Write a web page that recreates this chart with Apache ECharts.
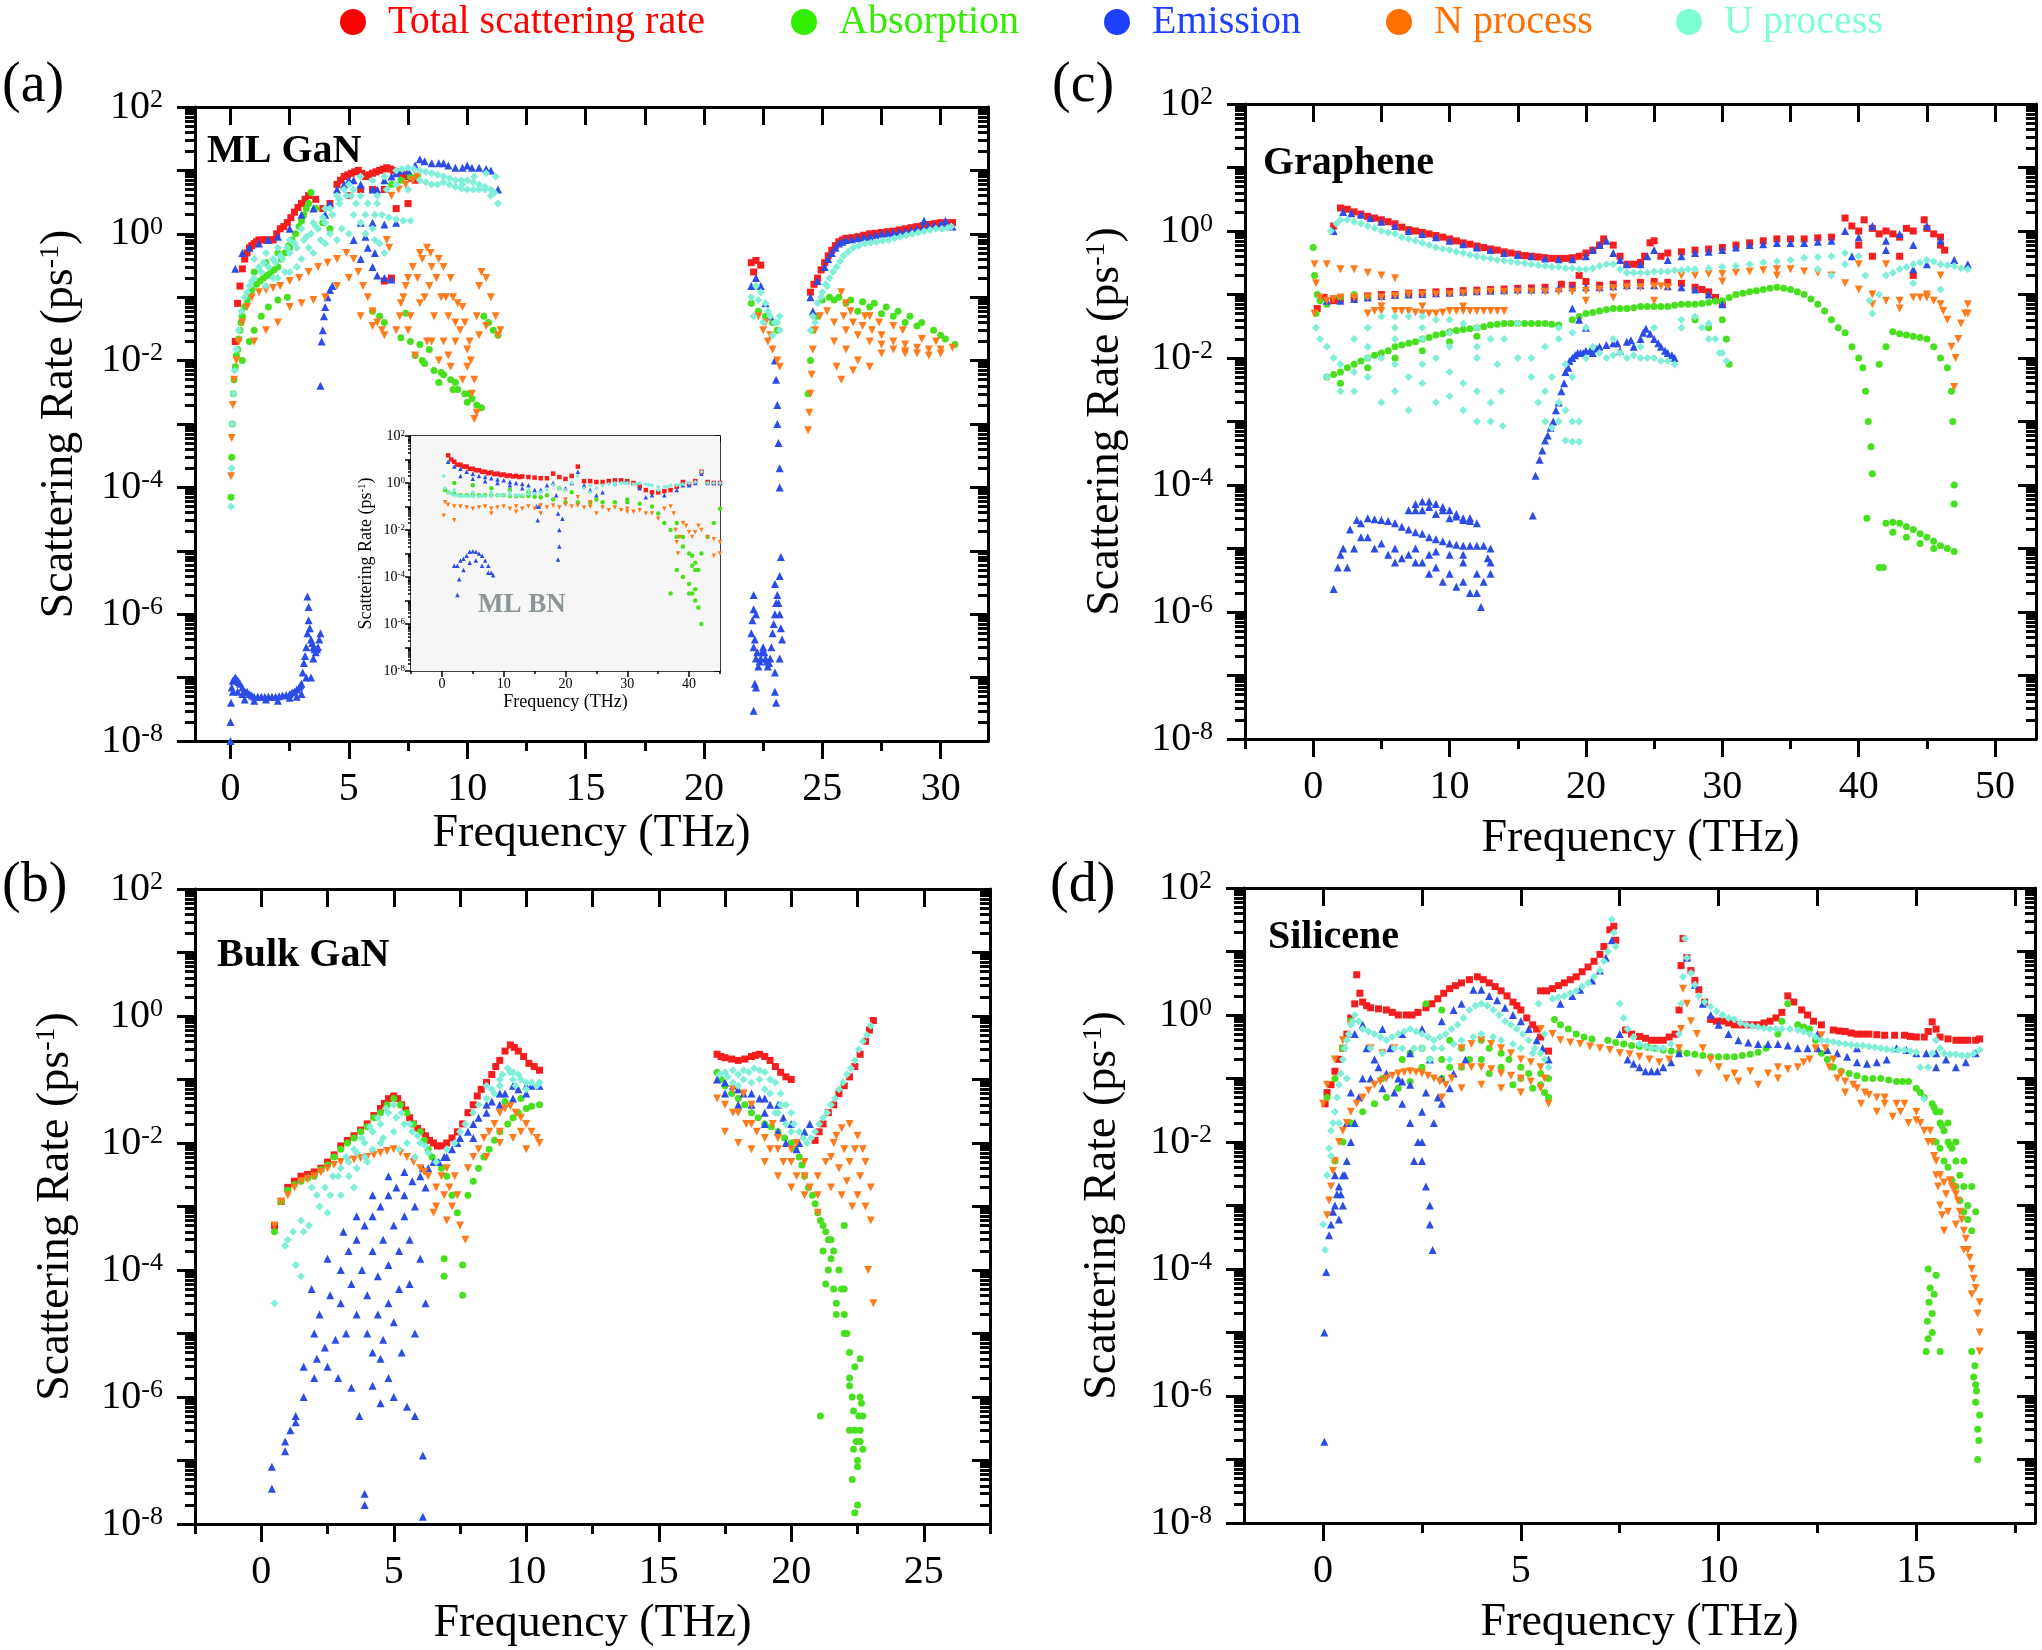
<!DOCTYPE html>
<html>
<head>
<meta charset="utf-8">
<title>Phonon scattering rates</title>
<script src="https://cdn.jsdelivr.net/npm/echarts@6.0.0/dist/echarts.min.js"></script>
<style>
  html, body { margin: 0; padding: 0; background: #fff; }
  #chart { width: 2042px; height: 1650px; }
</style>
</head>
<body>
<div id="chart"></div>
<script>
var seriesNames = ['Total scattering rate', 'Absorption', 'Emission', 'N process', 'U process'];

// x-axis tick labels / minor ticks per panel
var aXLabels = [0, 5, 10, 15, 20, 25, 30];
var aXMinor = [2.5, 7.5, 12.5, 17.5, 22.5, 27.5];
var bXLabels = [0, 5, 10, 15, 20, 25];
var bXMinor = [-2.5, 2.5, 7.5, 12.5, 17.5, 22.5, 27.5];
var cXLabels = [0, 10, 20, 30, 40, 50];
var cXMinor = [-5, 5, 15, 25, 35, 45];
var dXLabels = [0, 5, 10, 15];
var dXMinor = [2.5, 7.5, 12.5, 17.5];
var iXLabels = [0, 10, 20, 30, 40];
var iXMinor = [-5, 5, 15, 25, 35, 45];
// y decades (exponents) that carry a label
var yDecades = [-8, -6, -4, -2, 0, 2];

// ---------- (a) ML GaN ----------
var aTotal = [[0.2,2e-2],[0.4,1.5e-1],[0.6,4e-1],[0.8,6e-1],[1.0,7e-1],[1.2,8e-1],[1.5,8e-1],[1.8,8e-1],[2.1,1.2],[2.4,1.5],[2.7,2.2],[3.0,3],[3.3,4],[3.6,3.5],[3.9,2.5],[4.2,3],[4.5,6],[4.8,8],[5.1,9],[5.4,10],[5.7,8],[6.0,9],[6.3,10],[6.6,11],[6.9,10],[7.2,9],[7.5,8],[7.8,7],[5.0,4],[5.5,5],[6.0,5],[6.5,5],[6.5,1.8e-1],[6.8,2e-1],[7.0,2.5],[7.5,3],[22.0,3.5e-1],[22.2,3.8e-1],[22.4,3.2e-1],[22.1,2.5e-1],[24.5,1.2e-1],[24.8,2e-1],[25.1,3.5e-1],[25.4,5.5e-1],[25.7,7.5e-1],[26.0,8.5e-1],[26.5,9e-1],[27.0,1.0],[27.5,1.05],[28.0,1.1],[28.5,1.2],[29.0,1.3],[29.5,1.4],[30.0,1.5],[30.5,1.5],[24.65,1.6e-1],[24.95,2.7e-1],[25.25,4.5e-1],[25.55,6.5e-1],[25.85,8e-1],[26.25,8.7e-1],[26.75,9.5e-1],[27.25,1.02],[27.75,1.08],[28.25,1.15],[28.75,1.25],[29.25,1.35],[29.75,1.45],[30.25,1.5],[0.3,8e-2],[0.5,2.8e-1],[0.7,5e-1],[0.9,6.5e-1],[1.1,7.5e-1],[1.35,8e-1],[1.65,8e-1],[1.95,1],[2.25,1.3],[2.55,1.8],[2.85,2.6],[3.15,3.5],[4.65,7],[4.95,8.5],[5.25,9.5],[5.55,9],[5.85,8.5],[6.15,9.5],[6.45,10.5],[6.75,10.5],[7.05,9.5],[7.35,8.5],[7.65,7.5]];
var aAbs = [[0.02,7e-5],[0.05,3e-4],[0.08,1e-3],[0.12,3e-3],[0.2,8e-3],[0.3,1.5e-2],[0.4,3e-2],[0.5,5e-2],[0.7,9e-2],[0.9,1.3e-1],[1.1,1.6e-1],[1.4,2e-1],[1.7,2.4e-1],[2.0,3e-1],[2.3,5e-1],[2.6,8e-1],[2.9,1.3],[3.1,2],[3.3,3],[3.4,4.5],[3.6,2.5],[3.9,1.5],[4.2,1.2],[1.0,2.5e-1],[1.5,3.5e-1],[2.0,5e-1],[2.5,6e-1],[0.5,1e-2],[0.8,2e-2],[1.0,3e-2],[1.3,5e-2],[1.6,7e-2],[2.0,9e-2],[2.4,1e-1],[6.8,6],[7.2,7],[7.6,8],[7.9,8],[6.0,6e-2],[6.3,5e-2],[6.5,4e-2],[7.4,5.6e-2],[7.2,2.3e-2],[7.6,2e-2],[8.0,1.8e-2],[8.4,1.5e-2],[8.2,9e-3],[8.6,7e-3],[9.0,6e-3],[9.3,5e-3],[9.6,3.5e-3],[9.9,3e-3],[10.2,2.5e-3],[10.4,2e-3],[10.6,1.8e-3],[8.8,4.5e-3],[9.4,3.5e-3],[10.0,2.2e-3],[10.7,5e-2],[10.9,4e-2],[11.1,3e-2],[11.3,2.5e-2],[22.0,8e-2],[22.3,6e-2],[22.6,5e-2],[22.9,4e-2],[23.1,3e-2],[24.4,3e-3],[24.5,1e-2],[24.6,3e-2],[24.8,5e-2],[25.0,9e-2],[25.3,1e-1],[25.7,1e-1],[26.2,9e-2],[26.7,8.5e-2],[27.2,8e-2],[27.7,7e-2],[28.2,6e-2],[28.7,5e-2],[29.2,4e-2],[29.7,3e-2],[30.2,2.2e-2],[30.6,1.8e-2],[26.5,6e-2],[27.5,5.5e-2],[28.5,4e-2],[0.15,5e-3],[0.25,1.2e-2],[0.35,2.2e-2],[0.45,4e-2],[0.6,7e-2],[0.8,1.1e-1],[1.25,1.8e-1],[1.55,2.2e-1],[1.85,2.7e-1],[2.15,4e-1],[2.45,6.5e-1],[2.75,1],[3.0,1.6],[3.2,2.5],[7.8,1.2e-2],[8.1,1e-2],[8.9,6.5e-3],[9.5,4.5e-3],[10.1,3e-3],[25.5,9e-2],[26.0,8e-2],[27.0,7e-2],[28.0,5e-2],[29.0,3.5e-2],[30.0,2.5e-2]];
var aEm = [[0.2,2.8e-1],[0.5,5e-1],[0.8,6e-1],[1.2,7e-1],[1.6,8e-1],[2.0,9e-1],[2.5,1.2],[3.0,2],[3.5,2.5],[4.0,2],[4.5,5],[5.0,7],[5.5,6],[6.0,5],[6.5,7],[7.0,9],[7.5,10],[8.0,15],[8.5,13],[9.0,13],[9.5,11],[10.0,12],[10.5,11],[11.0,10],[11.3,5],[6.0,1.5],[6.5,1.4],[7.0,1.5],[5.5,1.5],[5.8,6e-1],[6.0,3e-1],[6.2,2.2e-1],[6.5,2e-1],[6.8,1.9e-1],[5.2,8e-1],[5.5,4e-1],[5.7,9e-1],[6.1,5e-1],[7.2,10],[7.8,12],[8.2,14],[8.8,13],[9.2,12],[9.8,11],[10.2,11],[10.8,10.5],[4.2,3],[4.8,6],[5.2,7],[6.2,5],[6.8,8],[3.8,4e-3],[3.85,2e-2],[3.9,3e-2],[3.95,5e-2],[4.0,7e-2],[4.1,1e-1],[4.2,1.3e-1],[4.3,1.5e-1],[0.0,1e-8],[0.0,2e-8],[0.02,4e-8],[0.05,7e-8],[0.1,9e-8],[0.2,1e-7],[0.3,9e-8],[0.4,8e-8],[0.6,6e-8],[0.8,5.5e-8],[1.0,5e-8],[1.3,5e-8],[1.6,5e-8],[1.9,5e-8],[2.2,5.2e-8],[2.5,5.5e-8],[2.7,6e-8],[2.9,7e-8],[3.0,8e-8],[3.1,1.7e-7],[3.2,3e-7],[3.25,5e-7],[3.3,8e-7],[3.25,1.9e-6],[3.3,1.3e-6],[3.4,4e-7],[3.5,3e-7],[3.6,2.5e-7],[3.7,3e-7],[3.8,5e-7],[3.5,2e-7],[0.3,6e-8],[0.6,4.5e-8],[1.5,4.5e-8],[2.5,4.8e-8],[3.0,5.5e-8],[3.4,1e-7],[0.15,9e-8],[0.25,9.5e-8],[0.35,8.5e-8],[0.5,7e-8],[0.7,6e-8],[0.9,5.2e-8],[1.15,5e-8],[1.45,5e-8],[1.75,5e-8],[2.05,5.1e-8],[2.35,5.3e-8],[2.6,5.8e-8],[2.8,6.5e-8],[2.95,7.5e-8],[3.05,1.2e-7],[3.15,2.2e-7],[3.35,6e-7],[3.45,3.5e-7],[3.55,2.8e-7],[3.65,2.8e-7],[3.75,4e-7],[0.1,6e-8],[0.5,5.5e-8],[1.0,4.3e-8],[2.0,4.3e-8],[2.8,5e-8],[3.2,1e-7],[22.0,1.5e-1],[22.2,2e-1],[22.4,1.5e-1],[22.6,8e-2],[22.8,5e-2],[23.0,1e-2],[23.05,5e-3],[23.1,2e-3],[23.1,1e-3],[23.15,5e-4],[23.2,2e-4],[23.2,1e-4],[23.25,8e-6],[22.0,5e-7],[22.1,3e-7],[22.2,2e-7],[22.3,1.5e-7],[22.4,2e-7],[22.5,3e-7],[22.6,2e-7],[22.7,1.5e-7],[22.8,2e-7],[22.9,5e-7],[23.0,1e-6],[23.1,2e-6],[23.2,1e-6],[23.3,4e-7],[23.2,2e-7],[22.2,1e-6],[22.1,2e-6],[22.15,8e-8],[23.0,1.2e-7],[22.2,7e-8],[22.1,3e-8],[23.0,6e-8],[23.05,4e-8],[22.05,8e-7],[22.15,4e-7],[22.25,2.5e-7],[22.35,1.8e-7],[22.45,2.5e-7],[22.55,2.5e-7],[22.65,1.8e-7],[22.75,1.7e-7],[22.85,3e-7],[22.95,7e-7],[23.05,1.5e-6],[23.15,1.5e-6],[23.25,6e-7],[23.0,3e-6],[23.2,4e-6],[22.1,1.2e-6],[24.5,1e-1],[24.8,1.8e-1],[25.1,3e-1],[25.4,5e-1],[25.7,7e-1],[26.0,8e-1],[26.5,8.5e-1],[27.0,9e-1],[27.5,1.0],[28.0,1.05],[28.5,1.1],[29.0,1.2],[29.5,1.3],[30.0,1.4],[30.5,1.3],[29.3,1.6],[30.2,1.6],[24.6,6e-2],[25.25,4e-1],[25.55,6e-1],[25.85,7.5e-1],[26.25,8.2e-1],[26.75,8.8e-1],[27.25,9.5e-1],[27.75,1.02],[28.25,1.08],[28.75,1.15],[29.25,1.25],[29.75,1.35],[30.25,1.35]];
var aN = [[0.02,1.5e-4],[0.05,6e-4],[0.1,2e-3],[0.15,5e-3],[0.25,1e-2],[0.35,2e-2],[0.5,4e-2],[0.7,7e-2],[0.9,1e-1],[1.2,1.2e-1],[1.5,1.3e-1],[1.8,1.4e-1],[2.1,1.5e-1],[2.5,1.8e-1],[2.9,2e-1],[3.3,2.5e-1],[3.7,3e-1],[4.1,3.5e-1],[4.5,4e-1],[4.9,5e-1],[5.2,4e-1],[5.4,2.5e-1],[5.6,1.5e-1],[5.8,1e-1],[6.0,6e-2],[6.2,4e-2],[6.4,3e-2],[6.5,2.5e-2],[5.0,2e-1],[4.5,1.5e-1],[4.0,1e-1],[3.5,9e-2],[3.0,8e-2],[2.5,7e-2],[2.0,4e-2],[1.5,3e-2],[1.0,2e-2],[5.5,5e-2],[6.0,3.5e-2],[6.8,4],[7.1,5],[7.4,6],[7.7,7],[7.9,8],[6.6,8e-1],[6.7,6e-1],[7.0,3e-2],[7.2,8e-2],[7.5,2e-1],[8.0,5e-1],[8.3,6e-1],[8.8,4e-1],[9.3,2e-1],[9.8,7e-2],[10.1,2e-2],[10.3,5e-3],[10.4,1.5e-3],[7.3,1e-1],[7.6,5e-2],[7.9,2e-1],[8.2,1e-1],[8.5,3e-1],[8.6,5e-2],[8.9,1e-1],[9.2,5e-2],[9.5,2e-2],[9.7,3e-2],[10.0,8e-3],[7.8,1.2e-2],[8.3,2e-2],[8.8,1e-2],[9.3,8e-3],[9.8,5e-3],[10.2,3e-3],[7.15,5e-2],[7.4,1.5e-1],[7.7,3e-1],[8.1,4e-1],[8.45,5e-1],[8.7,2e-1],[9.0,3e-1],[9.1,1e-1],[9.4,1e-1],[9.6,8e-2],[9.9,4e-2],[10.15,1e-2],[7.5,3e-2],[8.0,8e-2],[8.4,1.5e-1],[9.0,2e-2],[9.5,4e-2],[10.0,1.5e-2],[8.5,2e-2],[9.2,1.2e-2],[10.4,5e-2],[10.5,1.5e-1],[10.6,2.5e-1],[10.8,2e-1],[11.0,1e-1],[11.2,5e-2],[11.3,2.5e-2],[10.5,2.5e-2],[10.8,3.5e-2],[11.4,3e-2],[10.3,1.2e-3],[22.3,5e-2],[22.5,3e-2],[22.7,2e-2],[22.9,1.5e-2],[23.1,1e-2],[23.2,8e-3],[22.6,4e-2],[22.8,2.5e-2],[24.4,8e-4],[24.45,1.5e-3],[24.5,3e-3],[24.55,6e-3],[24.6,1.5e-2],[24.7,3e-2],[24.9,5e-2],[25.2,6e-2],[25.5,4e-2],[25.9,5e-2],[26.3,4e-2],[26.7,3.5e-2],[27.1,3e-2],[27.5,2.5e-2],[28.0,2e-2],[28.5,1.8e-2],[29.0,1.6e-2],[29.5,1.5e-2],[30.0,1.5e-2],[30.5,1.6e-2],[25.5,2e-2],[26.0,1.5e-2],[26.5,1e-2],[27.0,8e-3],[26.3,7e-3],[25.8,5e-3],[25.6,8e-3],[27.5,1.3e-2],[28.5,1.3e-2],[29.5,1.2e-2],[26.0,8e-2],[25.8,1.2e-1],[27.0,5e-2],[28.0,3.5e-2],[26.0,3e-2],[26.5,2.5e-2],[27.0,2e-2],[27.5,1.8e-2],[28.0,1.5e-2],[28.5,1.4e-2],[29.0,1.3e-2],[30.0,1.3e-2],[26.2,6e-2],[26.8,5e-2],[27.4,4e-2],[28.4,3e-2],[29.2,2.2e-2],[29.8,2e-2]];
var aU = [[0.02,5e-5],[0.05,2e-4],[0.08,1e-3],[0.12,3e-3],[0.18,7e-3],[0.25,1.5e-2],[0.35,3e-2],[0.45,6e-2],[0.6,1e-1],[0.8,1.5e-1],[1.0,2e-1],[1.3,2.5e-1],[1.6,3e-1],[1.9,3.5e-1],[2.2,4e-1],[2.5,5e-1],[2.8,6e-1],[3.1,8e-1],[3.4,1],[3.7,1.2],[4.0,1.5],[4.3,2],[4.6,3],[4.9,4],[5.2,5],[5.5,4],[5.8,3],[6.1,2],[6.4,2],[6.7,1.8],[7.0,1.7],[7.3,1.6],[7.6,1.6],[1.0,4e-1],[1.5,5e-1],[2.0,6e-1],[2.5,8e-1],[3.0,1.2],[3.5,1.5],[4.0,2.5],[4.5,4],[5.0,6],[5.5,8],[6.0,7],[3.0,4e-1],[3.5,5e-1],[4.0,7e-1],[4.5,8e-1],[5.0,1],[5.5,1.5],[6.0,1.2],[6.3,7e-1],[6.5,5e-1],[2.0,2e-1],[2.5,2.5e-1],[1.5,1.5e-1],[0.7,1.2e-1],[0.9,1.8e-1],[1.2,3e-1],[1.4,3.5e-1],[1.8,4e-1],[2.1,4.5e-1],[2.4,6e-1],[2.7,7e-1],[3.2,9e-1],[3.6,1.3],[3.9,1.8],[4.2,2.5],[4.6,3.5],[4.8,5],[5.1,4],[3.3,6e-1],[3.8,8e-1],[4.2,1],[4.7,1.2],[5.2,2],[5.7,1],[6.1,8e-1],[2.8,3e-1],[2.3,2.5e-1],[1.8,2e-1],[5.3,3],[5.7,2],[6.2,3],[6.2,4],[6.6,5],[7.0,6],[7.5,5],[6.5,8],[7.0,10],[7.5,11],[8.0,10],[8.5,9],[9.0,8],[9.5,7],[10.0,7],[10.5,6],[11.0,4],[11.3,3],[8.0,7],[8.5,6],[9.0,6.5],[9.5,5.5],[10.0,5],[10.5,5],[11.0,5],[11.2,8],[10.8,9],[10.3,8],[9.8,6],[7.25,10.5],[7.75,10.5],[8.25,9.5],[8.75,8.5],[9.25,7.5],[9.75,7],[10.25,6.5],[10.75,5.5],[11.15,4.5],[8.25,6.5],[8.75,6],[9.25,6],[9.75,5.2],[10.25,5],[10.75,5],[22.0,1e-1],[22.2,1.5e-1],[22.4,1.2e-1],[22.6,8e-2],[22.8,5e-2],[23.0,4e-2],[23.2,3e-2],[22.1,5e-2],[22.5,4e-2],[22.9,2.5e-2],[23.2,5e-2],[22.3,9e-2],[22.7,6e-2],[23.1,4e-2],[24.5,3e-2],[24.6,5e-2],[24.8,8e-2],[25.0,1.2e-1],[25.3,2e-1],[25.6,3e-1],[25.9,4.5e-1],[26.3,6e-1],[26.8,7e-1],[27.3,7.5e-1],[27.8,8e-1],[28.3,9e-1],[28.8,1.0],[29.3,1.1],[29.8,1.2],[30.3,1.25],[25.2,1.5e-1],[24.7,4e-2],[24.95,1e-1],[25.15,1.6e-1],[25.45,2.5e-1],[25.75,3.7e-1],[26.1,5.2e-1],[26.55,6.5e-1],[27.05,7.2e-1],[27.55,7.8e-1],[28.05,8.5e-1],[28.55,9.5e-1],[29.05,1.05],[29.55,1.15],[30.05,1.2],[30.45,1.3]];

// ---------- (b) Bulk GaN ----------
var bTotal = [[0.5,5e-4],[1.0,2e-3],[1.5,3e-3],[2.0,3.5e-3],[2.5,5e-3],[3.0,9e-3],[3.5,1.3e-2],[4.0,2e-2],[4.5,3.5e-2],[4.8,5e-2],[5.0,5.5e-2],[5.3,4e-2],[5.6,2.5e-2],[5.9,1.7e-2],[6.2,1.3e-2],[6.5,1e-2],[6.8,9e-3],[7.2,1.2e-2],[7.6,2e-2],[8.0,4e-2],[8.3,7e-2],[8.7,1.2e-1],[9.0,2e-1],[9.4,3.5e-1],[9.7,2.8e-1],[10.1,1.8e-1],[10.5,1.4e-1],[17.2,2.5e-1],[17.5,2.2e-1],[18.0,2e-1],[18.5,2.3e-1],[18.8,2.5e-1],[19.2,2e-1],[19.6,1.3e-1],[20.0,1e-1],[20.9,1.1e-2],[21.2,2e-2],[21.6,4e-2],[22.0,8e-2],[22.4,1.6e-1],[22.8,4e-1],[23.1,8.5e-1],[0.75,1.2e-3],[1.25,2.5e-3],[1.75,3.2e-3],[2.25,4e-3],[2.75,6.5e-3],[3.25,1.1e-2],[3.75,1.6e-2],[4.25,2.7e-2],[4.65,4.2e-2],[5.15,5e-2],[5.45,3.3e-2],[5.75,2e-2],[6.05,1.5e-2],[6.35,1.1e-2],[6.65,9e-3],[7.0,1e-2],[7.4,1.5e-2],[7.8,3e-2],[8.15,5.5e-2],[8.5,9e-2],[8.85,1.6e-1],[9.2,2.8e-1],[9.55,3.2e-1],[9.9,2.3e-1],[10.3,1.6e-1],[17.35,2.3e-1],[17.75,2.1e-1],[18.25,2.1e-1],[18.65,2.4e-1],[19.0,2.3e-1],[19.4,1.6e-1],[19.8,1.1e-1],[21.05,1.5e-2],[21.4,3e-2],[21.8,6e-2],[22.2,1.1e-1],[22.6,2.5e-1],[22.95,6e-1]];
var bAbs = [[0.5,4e-4],[1.0,1.8e-3],[1.5,2.5e-3],[2.0,3e-3],[2.5,4.5e-3],[3.0,8e-3],[3.5,1.2e-2],[4.0,1.8e-2],[4.5,3e-2],[5.0,5e-2],[5.5,3e-2],[6.0,1.5e-2],[6.3,8e-3],[6.6,5e-3],[7.0,3e-3],[7.2,1.5e-3],[7.4,8e-4],[6.9,1.5e-4],[6.9,8e-5],[7.6,1.2e-4],[7.6,4e-5],[7.8,1.5e-3],[8.2,4e-3],[8.6,8e-3],[9.0,1.5e-2],[9.5,2.5e-2],[10.0,3.5e-2],[10.5,4e-2],[9.2,4.5e-2],[9.8,5e-2],[17.2,1.3e-1],[17.5,8e-2],[18.0,5e-2],[18.5,3e-2],[19.0,2e-2],[19.5,1.5e-2],[20.0,1e-2],[20.3,6e-3],[20.5,3e-3],[20.8,1.5e-3],[21.0,8e-4],[21.2,5e-4],[21.4,3e-4],[21.6,2e-4],[21.8,1e-4],[21.5,1.5e-4],[21.9,5e-5],[22.0,2e-5],[22.2,5e-6],[22.3,1e-6],[22.4,3e-7],[22.5,1e-7],[22.3,5e-8],[22.5,2e-8],[22.6,2e-7],[22.7,5e-7],[22.2,1.5e-6],[22.6,1e-6],[22.0,5e-5],[21.6,5e-5],[22.1,1e-5],[22.4,3e-6],[22.5,8e-8],[22.4,1.5e-8],[22.6,4e-6],[21.1,5e-7],[22.0,5e-4],[21.3,6e-5],[21.7,2e-5],[22.7,1.5e-7],[0.75,1.2e-3],[1.25,2.2e-3],[1.75,2.8e-3],[2.25,3.8e-3],[2.75,6e-3],[3.25,1e-2],[3.75,1.5e-2],[4.25,2.5e-2],[4.75,4e-2],[5.25,4e-2],[5.75,2e-2],[6.15,1.1e-2],[6.45,6e-3],[6.8,4e-3],[8.0,2.5e-3],[8.4,6e-3],[8.8,1.1e-2],[9.3,2e-2],[9.7,3e-2],[10.2,3.8e-2],[17.35,1e-1],[17.75,6e-2],[18.25,4e-2],[18.75,2.5e-2],[19.25,1.8e-2],[19.75,1.2e-2],[20.15,8e-3],[20.4,4.5e-3],[20.65,2e-3],[20.9,1.1e-3],[21.1,6e-4],[21.3,4e-4],[21.5,3e-4],[21.2,2e-4],[21.4,1e-4],[21.7,3e-5],[22.0,1e-5],[22.2,2e-6],[22.35,6e-7],[22.45,2e-7],[22.55,5e-7],[22.65,8e-7],[22.2,3e-7],[22.35,1.5e-7],[22.6,3e-7]];
var bEm = [[1.9,5e-5],[2.5,1.5e-4],[3.1,4e-4],[3.6,7e-4],[4.2,1.5e-3],[4.8,3e-3],[5.4,3.5e-3],[6.1,4e-3],[6.5,5e-3],[6.9,6e-3],[2.2,2e-5],[2.6,4e-5],[3.0,1e-4],[3.3,2e-4],[3.6,3e-4],[3.9,5e-4],[4.2,7e-4],[4.5,1e-3],[4.8,1.5e-3],[5.1,2e-3],[5.4,1.5e-3],[5.7,2.5e-3],[6.0,3e-3],[3.0,3e-5],[3.4,6e-5],[3.8,1e-4],[4.2,2e-4],[4.6,3e-4],[5.0,5e-4],[5.4,7e-4],[5.8,1e-3],[6.2,2e-3],[3.6,2e-5],[4.0,4e-5],[4.4,8e-5],[4.8,1.2e-4],[5.2,2e-4],[5.6,3e-4],[4.0,1e-5],[4.4,2e-5],[4.8,3e-5],[5.2,5e-5],[3.2,1e-5],[2.8,8e-6],[2.4,6e-6],[2.0,1e-5],[1.6,3e-6],[4.2,5e-6],[4.6,8e-6],[5.0,1.5e-5],[5.6,6e-5],[6.0,1.5e-4],[0.4,8e-8],[0.4,3.6e-8],[0.9,2e-7],[0.9,1.4e-7],[1.3,5e-7],[1.3,4e-7],[1.6,1e-6],[2.1,4e-6],[2.5,3e-6],[2.9,2e-6],[3.4,1.4e-6],[3.7,5e-7],[3.9,3e-8],[3.9,2e-8],[4.2,1.5e-6],[4.5,8e-7],[4.8,2e-6],[5.0,1e-6],[5.5,7e-7],[5.8,5e-7],[6.1,1.2e-7],[6.1,1.3e-8],[4.5,4e-6],[5.3,5e-6],[5.8,1e-5],[6.2,3e-5],[1.1,3e-7],[2.0,2e-6],[7.2,8e-3],[7.5,1.2e-2],[8.0,2e-2],[8.5,4e-2],[9.0,6e-2],[9.5,8e-2],[10.0,8e-2],[10.5,8e-2],[8.5,3e-2],[9.5,5e-2],[6.3,4e-3],[6.7,5e-3],[7.0,6e-3],[7.4,1e-2],[7.8,1.5e-2],[8.2,2.5e-2],[8.7,4.5e-2],[9.2,6e-2],[9.7,7e-2],[10.2,8e-2],[8.0,1.2e-2],[9.0,4e-2],[10.0,6e-2],[17.2,1e-1],[17.5,9e-2],[18.0,7e-2],[18.5,6e-2],[19.0,5e-2],[19.5,4e-2],[20.0,2e-2],[17.5,6e-2],[18.5,4e-2],[19.0,3e-2],[19.5,1.5e-2],[20.2,8e-3],[17.8,8e-2],[18.2,6e-2],[18.8,5e-2],[19.2,4e-2],[19.7,2.5e-2],[18.0,4e-2],[19.0,2e-2],[19.8,1e-2],[20.3,1e-2],[20.5,1.5e-2],[20.7,2e-2]];
var bN = [[0.5,5e-4],[1.0,1.5e-3],[1.5,2.5e-3],[2.0,3e-3],[2.5,4e-3],[3.0,5e-3],[3.5,5.5e-3],[4.0,6e-3],[4.5,7e-3],[5.0,8e-3],[5.5,6e-3],[6.0,4e-3],[6.3,3e-3],[6.6,2e-3],[6.9,1.5e-3],[7.2,1e-3],[7.5,5e-4],[6.5,8e-4],[7.0,6e-4],[7.7,3e-4],[6.8,3e-3],[7.0,4e-3],[7.3,3e-3],[7.8,4e-3],[8.2,8e-3],[8.6,1.5e-2],[9.0,3e-2],[9.4,3.8e-2],[9.8,2.5e-2],[10.2,1.5e-2],[10.5,1e-2],[8.5,6e-3],[9.0,1e-2],[9.5,1.2e-2],[10.0,8e-3],[8.0,6e-3],[8.4,1.2e-2],[8.8,2e-2],[9.2,3.5e-2],[9.6,3e-2],[10.0,2e-2],[10.4,1.2e-2],[9.0,1.5e-2],[9.8,1.5e-2],[6.6,1e-3],[7.1,2e-3],[7.4,1.5e-3],[0.75,1.2e-3],[1.25,2e-3],[1.75,2.7e-3],[2.25,3.5e-3],[2.75,4.5e-3],[3.25,5.3e-3],[3.75,5.8e-3],[4.25,6.5e-3],[4.75,7.5e-3],[5.25,7e-3],[5.75,5e-3],[6.15,3.5e-3],[17.2,5e-2],[17.5,4e-2],[18.0,3e-2],[18.5,2e-2],[19.0,1.2e-2],[19.5,8e-3],[20.0,5e-3],[20.5,3e-3],[21.0,1.5e-3],[18.0,1e-2],[18.5,8e-3],[19.0,5e-3],[19.5,3e-3],[20.0,2e-3],[20.5,1.5e-3],[21.0,8e-4],[17.5,1.5e-2],[18.2,6e-2],[19.3,2e-2],[20.2,1e-2],[17.8,3e-2],[18.3,2e-2],[18.7,1.5e-2],[19.2,8e-3],[19.7,5e-3],[20.2,3e-3],[20.7,2e-3],[17.8,7e-2],[18.5,4e-2],[19.5,1.2e-2],[20.0,8e-3],[20.5,5e-3],[21.0,3e-3],[21.3,5e-3],[21.5,6e-3],[21.6,1e-2],[21.7,1.3e-2],[21.9,1.7e-2],[22.2,2e-2],[22.5,1.3e-2],[22.8,5e-3],[23.0,2e-3],[23.0,6e-4],[22.6,3e-3],[22.2,5e-3],[21.8,4e-3],[21.5,2e-3],[22.3,1e-3],[22.0,8e-3],[22.4,8e-3],[22.7,8e-3],[22.1,2.5e-3],[22.5,1.5e-3],[22.8,1e-3],[21.9,1.5e-3],[22.9,1e-4],[23.1,3e-5]];
var bU = [[0.5,3e-5],[0.9,2.4e-4],[1.0,3e-4],[1.2,4e-4],[1.5,6e-4],[1.8,5e-4],[1.9,2e-3],[2.1,1.5e-3],[2.4,2e-3],[2.7,3e-3],[3.0,4e-3],[3.3,5e-3],[3.6,7e-3],[3.9,1e-2],[4.2,1.5e-2],[4.5,2e-2],[4.8,3e-2],[5.1,2.5e-2],[5.4,2e-2],[5.7,1.5e-2],[6.0,1e-2],[6.3,7e-3],[6.6,5e-3],[4.0,5e-3],[4.5,1e-2],[5.0,1.5e-2],[5.5,1e-2],[3.5,2e-3],[2.5,8e-4],[1.5,8e-5],[1.3,1.2e-4],[2.9,3e-3],[3.2,6e-3],[3.5,8e-3],[3.8,1.2e-2],[4.1,1.8e-2],[4.4,2.5e-2],[4.7,3.5e-2],[5.0,4e-2],[5.3,3e-2],[5.6,2e-2],[5.9,1.3e-2],[6.2,9e-3],[3.0,1.5e-3],[3.3,3e-3],[3.6,4e-3],[3.9,6e-3],[4.2,8e-3],[4.6,1.2e-2],[5.2,8e-3],[5.8,6e-3],[2.2,1e-3],[2.6,1.5e-3],[1.6,4e-4],[7.0,8e-3],[7.5,1.5e-2],[8.0,3e-2],[8.5,5e-2],[9.0,1e-1],[9.3,1.5e-1],[9.5,1.3e-1],[9.8,1e-1],[10.2,9e-2],[10.5,9e-2],[8.8,6e-2],[9.6,8e-2],[7.3,1e-2],[7.7,2e-2],[8.2,4e-2],[8.7,7e-2],[9.1,1.2e-1],[9.4,1.3e-1],[9.7,1.2e-1],[10.0,9e-2],[10.4,8e-2],[8.5,8e-2],[9.0,8e-2],[9.5,1e-1],[10.0,7e-2],[17.3,1.2e-1],[17.6,1.1e-1],[18.0,1.2e-1],[18.4,1.3e-1],[18.8,1.4e-1],[19.2,1e-1],[19.6,6e-2],[20.0,3e-2],[20.3,1.5e-2],[20.6,1e-2],[20.9,1.5e-2],[21.2,2.5e-2],[21.5,4e-2],[21.8,7e-2],[22.1,1.2e-1],[22.4,2e-1],[22.7,4e-1],[23.0,7e-1],[18.0,8e-2],[18.5,9e-2],[19.0,7e-2],[19.5,3e-2],[19.8,2e-2],[17.5,1.3e-1],[17.8,1.4e-1],[18.2,1.4e-1],[18.6,1.5e-1],[19.0,1.3e-1],[19.4,9e-2],[19.8,4e-2],[20.1,2e-2],[20.45,1.2e-2],[20.75,1.2e-2],[21.05,2e-2],[21.35,3e-2],[21.65,5e-2],[21.95,9e-2],[22.25,1.5e-1],[22.55,3e-1],[22.85,5e-1],[17.8,9e-2],[18.2,1e-1],[18.8,1e-1],[19.2,6e-2],[19.6,4e-2],[19.4,3e-2],[20.0,1.5e-2]];

// ---------- (c) Graphene ----------
var cTotal = [[1.5,1.2],[2.0,2.3],[3,2.0],[4,1.7],[5,1.5],[6,1.3],[7,1.05],[8,9.5e-1],[9,8.5e-1],[10,7.5e-1],[11,6.5e-1],[12,5.8e-1],[13,5.2e-1],[14,4.7e-1],[15,4.3e-1],[16,4e-1],[17,3.8e-1],[18,3.7e-1],[19,3.8e-1],[20,4.5e-1],[21,6e-1],[21.3,7.5e-1],[22,6e-1],[22.5,4e-1],[23,3e-1],[24,3.2e-1],[24.7,6.5e-1],[25,7e-1],[25.5,4e-1],[26,4.5e-1],[28,5e-1],[30,5.5e-1],[32,6.5e-1],[34,7.5e-1],[36,7.5e-1],[38,8e-1],[39,1.6],[40,1.0],[40.4,1.5],[41.5,9e-1],[42,1.0],[43,8e-1],[44,1.0],[44.8,1.5],[45,1.1],[46,8e-1],[46.3,5e-1],[40,6e-1],[41,4e-1],[43,4e-1],[44,2e-1],[2.5,2.2],[3.5,1.85],[4.5,1.6],[5.5,1.4],[6.5,1.15],[7.5,1.0],[8.5,9e-1],[9.5,8e-1],[10.5,7e-1],[11.5,6.2e-1],[12.5,5.5e-1],[13.5,5e-1],[14.5,4.5e-1],[15.5,4.1e-1],[16.5,3.9e-1],[17.5,3.7e-1],[18.5,3.7e-1],[19.5,4e-1],[20.5,5e-1],[23.5,3e-1],[24.3,4e-1],[27,4.7e-1],[29,5.2e-1],[31,6e-1],[33,7e-1],[35,7.5e-1],[37,7.8e-1],[39.5,1.2],[41,1.1],[42.5,9e-1],[43.5,1.1],[45.5,9e-1],[46,6e-1],[0.8,9e-2],[1.5,8e-2],[3,9e-2],[5,1e-1],[7,1.05e-1],[9,1.1e-1],[11,1.15e-1],[13,1.2e-1],[15,1.25e-1],[17,1.3e-1],[18.2,1.45e-1],[19,1.4e-1],[20,1.6e-1],[21,1.4e-1],[23,1.5e-1],[25,1.6e-1],[27,1.5e-1],[28,1.3e-1],[29,1.1e-1],[29.5,9e-2],[30,7e-2],[0.3,6e-2],[19.5,2e-1],[2,8.5e-2],[4,9.5e-2],[6,1e-1],[8,1.07e-1],[10,1.12e-1],[12,1.17e-1],[14,1.22e-1],[16,1.27e-1],[22,1.45e-1],[24,1.55e-1],[26,1.55e-1],[28.5,1.2e-1]];
var cAbs = [[0.0,5.5e-1],[0.1,2e-1],[0.3,1e-1],[0.5,8e-2],[0.2,5e-2],[1,7e-2],[2,9e-2],[3,1e-1],[4,9e-2],[1,5e-3],[2,6e-3],[3,8e-3],[4,1e-2],[5,1.2e-2],[6,1.5e-2],[7,1.7e-2],[8,2e-2],[9,2.3e-2],[10,2.6e-2],[11,2.8e-2],[12,3e-2],[13,3.3e-2],[14,3.5e-2],[15,3.5e-2],[16,3.5e-2],[17,3.5e-2],[18,3.3e-2],[2,4e-3],[4,7e-3],[6,1e-2],[8,1.3e-2],[10,1.8e-2],[12,2.2e-2],[1.5,5.5e-3],[2.5,7e-3],[3.5,9e-3],[4.5,1.1e-2],[5.5,1.3e-2],[6.5,1.6e-2],[7.5,1.8e-2],[8.5,2.1e-2],[9.5,2.4e-2],[10.5,2.7e-2],[11.5,2.9e-2],[12.5,3.1e-2],[13.5,3.4e-2],[14.5,3.5e-2],[15.5,3.5e-2],[16.5,3.5e-2],[17.5,3.4e-2],[19,4e-2],[19.5,4.5e-2],[20,5e-2],[20.5,5.2e-2],[21,5.5e-2],[21.5,5.8e-2],[22,6e-2],[22.5,6e-2],[23,6e-2],[23.5,6.2e-2],[24,6.5e-2],[24.5,6.5e-2],[25,6.5e-2],[25.5,6.5e-2],[26,6.5e-2],[26.5,6.8e-2],[27,7e-2],[27.5,7e-2],[28,7e-2],[28.5,7.2e-2],[29,7.5e-2],[29.5,7.8e-2],[30,8e-2],[30.3,2e-2],[30.5,8e-3],[30,4e-2],[28,4e-2],[29,3e-2],[30.5,9e-2],[31,1e-1],[31.5,1.05e-1],[32,1.1e-1],[32.5,1.15e-1],[33,1.2e-1],[33.5,1.25e-1],[34,1.3e-1],[34.5,1.25e-1],[35,1.2e-1],[35.5,1.1e-1],[36,1e-1],[36.5,8.5e-2],[37,7e-2],[37.5,5.5e-2],[38,4e-2],[38.5,3e-2],[39,2.5e-2],[39.5,1.5e-2],[40,1e-2],[40.3,7e-3],[40.5,3e-3],[40.7,1e-3],[40.9,4e-4],[41,1.5e-4],[40.6,3e-5],[41.5,5e-6],[41.8,5e-6],[41.5,8e-3],[42,1.5e-2],[42.5,2.6e-2],[43,2.4e-2],[43.5,2.3e-2],[44,2.2e-2],[44.5,2.1e-2],[45,2e-2],[45.5,1.5e-2],[46,1e-2],[46.5,7e-3],[46.8,3e-3],[46.9,1e-3],[47,1e-4],[47,5e-5],[42,2.5e-5],[42.5,2.6e-5],[43,2.5e-5],[43.5,2.2e-5],[44,2e-5],[44.5,1.7e-5],[45,1.5e-5],[45.5,1.3e-5],[46,1.1e-5],[46.5,1e-5],[47,9e-6],[42.5,1.8e-5],[43.5,1.5e-5],[44.5,1.2e-5],[45.5,1e-5]];
var cEm = [[1.5,1.0],[2.2,2.0],[3.5,1.8],[5,1.4],[7,1.0],[9,8e-1],[11,6.2e-1],[13,5e-1],[15,4.2e-1],[17,3.7e-1],[19,3.6e-1],[20.5,5e-1],[21.5,7e-1],[22.5,3.5e-1],[24,3e-1],[25,5e-1],[26,3.5e-1],[28,4.5e-1],[30,5e-1],[32,6e-1],[34,6.5e-1],[36,6.5e-1],[38,7e-1],[39,1.0],[40,8e-1],[41,1.2],[42,7e-1],[43,9e-1],[44,6e-1],[45,1.2],[46,7e-1],[47,3.5e-1],[48,3e-1],[44,2.5e-1],[45,3e-1],[42,5e-1],[39.5,4e-1],[2.8,1.9],[4.2,1.6],[6,1.2],[8,9e-1],[10,7e-1],[12,5.5e-1],[14,4.5e-1],[16,4e-1],[18,3.6e-1],[20,4e-1],[21,6e-1],[22,4.5e-1],[23,3e-1],[24.5,4e-1],[27,4e-1],[29,4.7e-1],[31,5.5e-1],[33,6.2e-1],[35,6.5e-1],[37,6.8e-1],[1,8e-2],[3,8.5e-2],[5,9.5e-2],[7,1e-1],[9,1.05e-1],[11,1.1e-1],[13,1.15e-1],[15,1.2e-1],[17,1.2e-1],[19,1.3e-1],[21,1.3e-1],[23,1.4e-1],[25,1.4e-1],[27,1.3e-1],[29,1e-1],[30,7e-2],[19,6e-2],[19.5,4e-2],[20,3e-2],[2,8e-2],[4,9e-2],[6,9.8e-2],[8,1.02e-1],[10,1.07e-1],[12,1.12e-1],[14,1.17e-1],[16,1.2e-1],[18,1.25e-1],[20,1.3e-1],[22,1.35e-1],[24,1.4e-1],[26,1.35e-1],[28,1.2e-1],[16.1,3.3e-5],[16.3,1.4e-4],[16.6,2.5e-4],[16.8,3.5e-4],[17,5e-4],[17.2,6e-4],[17.4,8e-4],[17.6,1e-3],[17.8,1.5e-3],[18,2e-3],[18.2,3e-3],[18.4,4e-3],[18.5,6e-3],[18.7,7e-3],[18.8,9e-3],[19,1e-2],[19.2,1.1e-2],[19.4,1.2e-2],[19.6,1.2e-2],[19.8,1.2e-2],[20,1.3e-2],[20.3,1.3e-2],[20.5,1.2e-2],[20.8,1.4e-2],[21,1.5e-2],[21.5,1.6e-2],[22,1.7e-2],[22.3,1.7e-2],[22.5,1.3e-2],[23,1.8e-2],[23.3,1.9e-2],[23.5,1.5e-2],[24,2e-2],[24.2,2.5e-2],[24.4,2.9e-2],[24.7,2.4e-2],[25,2e-2],[25.3,1.7e-2],[25.5,1.5e-2],[25.8,1.3e-2],[26,1.2e-2],[26.3,1.1e-2],[26.5,1e-2],[1.5,2.3e-6],[1.8,5e-6],[2.2,1e-5],[2.7,2e-5],[3.2,2.8e-5],[3.5,2.5e-5],[4,3e-5],[4.5,2.9e-5],[5,2.8e-5],[5.5,2.7e-5],[6,2.5e-5],[6.5,2.2e-5],[7,2e-5],[7.5,1.8e-5],[8,1.7e-5],[8.5,1.5e-5],[9,1.4e-5],[9.5,1.3e-5],[10,1.2e-5],[10.5,1.15e-5],[11,1.1e-5],[11.5,1.1e-5],[12,1.1e-5],[12.5,1.1e-5],[13,1e-5],[2,8e-6],[3,1e-5],[3.5,1.5e-5],[4,1.5e-5],[4.5,1e-5],[5,1.2e-5],[5.5,8e-6],[6,1e-5],[6.5,7e-6],[7,8e-6],[7.5,6e-6],[8,6e-6],[8.5,4e-6],[9,5e-6],[9.5,3e-6],[10,4e-6],[10.5,2.5e-6],[11,3e-6],[11.5,2e-6],[12,2e-6],[12.3,1.2e-6],[12,4e-6],[12.5,3e-6],[13,4e-6],[12.8,7e-6],[13,6e-6],[2.5,5e-6],[6,6e-6],[7.5,1e-5],[8.5,8e-6],[9,9e-6],[10,8e-6],[11,6e-6],[11,8e-6],[7,4e-5],[7.5,5e-5],[8,5.5e-5],[8.5,5.5e-5],[9,5e-5],[9.5,4.5e-5],[10,4e-5],[10.5,3.5e-5],[11,3e-5],[11.5,2.7e-5],[12,2.5e-5],[7.5,4e-5],[8,4e-5],[8.5,4.5e-5],[9,3.5e-5],[9.5,4e-5],[10,3e-5],[10.5,3.2e-5],[11,2.8e-5],[11.5,3e-5]];
var cN = [[0.1,3e-1],[0.2,1.5e-1],[0.1,5e-2],[0.5,9e-2],[1,8e-2],[1.5,8.5e-2],[2,9e-2],[3,9e-2],[4,9e-2],[5,9e-2],[6,9.5e-2],[7,1e-1],[8,1e-1],[9,1e-1],[10,1e-1],[11,1.05e-1],[12,1.07e-1],[13,1.1e-1],[14,1.1e-1],[15,1.1e-1],[16,1.1e-1],[17,1.1e-1],[18,1.1e-1],[19,1.1e-1],[20,1.15e-1],[21,1.2e-1],[22,1.25e-1],[23,1.3e-1],[24,1.3e-1],[25,1.35e-1],[25.5,1.35e-1],[26,1.3e-1],[4,5e-2],[4.5,5.5e-2],[5,5.5e-2],[6,5.5e-2],[6.5,5.5e-2],[7,5.5e-2],[7.5,5.2e-2],[8,5e-2],[8.5,5e-2],[9,5e-2],[9.5,5.2e-2],[10,5.5e-2],[10.5,5.5e-2],[11,5.5e-2],[11.5,5.5e-2],[12,5.5e-2],[12.5,5.5e-2],[13,5.5e-2],[13.5,5.5e-2],[14,5.5e-2],[5,6.5e-2],[8,6.5e-2],[11,6.5e-2],[1,3e-1],[2,2.5e-1],[3,2.5e-1],[4,2.2e-1],[5,2e-1],[6,1.8e-1],[27,2e-1],[28,2e-1],[29,2.1e-1],[30,2.1e-1],[31,2.2e-1],[32,2.3e-1],[33,2.4e-1],[34,2.5e-1],[35,2.5e-1],[36,2.3e-1],[37,2.2e-1],[38,2e-1],[39,1.5e-1],[40,1.2e-1],[41,1e-1],[42,8e-2],[43,6e-2],[44,9e-2],[44.5,9e-2],[45,9e-2],[45.5,8e-2],[46,7e-2],[46.2,5.5e-2],[46.5,4e-2],[46.8,1.5e-2],[47,3.5e-3],[47.1,1e-2],[47.3,2e-2],[47.5,3.5e-2],[47.8,5e-2],[48,7e-2],[48,5e-2],[41,7e-2],[43,8e-2],[45,1e-1],[20,8e-2],[25,8e-2],[22,9e-2],[30,1.6e-1],[34,2e-1],[40,3e-1],[42,3e-1],[46,2e-1]];
var cU = [[1.3,1.0],[1.7,1.3],[2,1.5],[2.5,1.5],[3,1.4],[3.5,1.3],[4,1.2],[4.5,1.1],[5,1.0],[5.5,9.5e-1],[6,9e-1],[6.5,8e-1],[7,7.5e-1],[7.5,7e-1],[8,6.5e-1],[8.5,6e-1],[9,5.5e-1],[9.5,5.2e-1],[10,5e-1],[10.5,4.7e-1],[11,4.5e-1],[11.5,4.2e-1],[12,4e-1],[12.5,3.8e-1],[13,3.7e-1],[13.5,3.5e-1],[14,3.4e-1],[14.5,3.3e-1],[15,3.2e-1],[15.5,3.1e-1],[16,3e-1],[16.5,2.9e-1],[17,2.8e-1],[17.5,2.7e-1],[18,2.7e-1],[18.5,2.6e-1],[19,2.6e-1],[19.5,2.5e-1],[20,2.5e-1],[20.5,2.6e-1],[21,2.8e-1],[21.5,3e-1],[22,3e-1],[22.5,2.5e-1],[23,2.2e-1],[23.5,2.2e-1],[24,2.2e-1],[24.5,2.2e-1],[25,2.3e-1],[25.5,2.3e-1],[26,2.3e-1],[26.5,2.4e-1],[27,2.4e-1],[27.5,2.5e-1],[28,2.5e-1],[29,2.6e-1],[30,2.7e-1],[31,2.8e-1],[32,3e-1],[33,3.2e-1],[34,3.3e-1],[35,3.5e-1],[36,3.8e-1],[37,3.9e-1],[38,4e-1],[39,4.5e-1],[40,4e-1],[40.5,2e-1],[40.8,8e-2],[41,5e-2],[41.5,1e-1],[42,2e-1],[42.5,2.2e-1],[43,2.5e-1],[43.5,2.7e-1],[44,3e-1],[44.5,3.2e-1],[45,3.5e-1],[45.5,3.3e-1],[46,3e-1],[46.5,2.9e-1],[47,2.8e-1],[47.5,2.6e-1],[48,2.5e-1],[38,2e-1],[37,2.5e-1],[39,3e-1],[44,1.5e-1],[46,1.2e-1],[0.2,3e-2],[0.5,2e-2],[1,1.5e-2],[1.5,1e-2],[2,8e-3],[3,2e-2],[4,3e-2],[5,4.5e-2],[6,4.5e-2],[7,4.5e-2],[8,4.5e-2],[9,4e-2],[10,4e-2],[11,3.5e-2],[12,3e-2],[13,2e-2],[13.5,8e-3],[13.8,3e-3],[13.9,8.5e-4],[3,6e-3],[4,5e-3],[5,1e-2],[6,8e-3],[7,5e-3],[8,4e-3],[9,1e-2],[10,6e-3],[11,4e-3],[12,3e-3],[13,2e-3],[5,2e-3],[7,1.5e-3],[9,2e-3],[11,1.5e-3],[1,5e-3],[2,3e-3],[4,1.5e-2],[6,2e-2],[8,2e-2],[10,1.5e-2],[12,1e-2],[3,3e-3],[6,3e-3],[10,2.5e-3],[12,1e-3],[13,1e-3],[8,8e-3],[4,1e-2],[6,3e-2],[8,3e-2],[10,2.5e-2],[12,1.5e-2],[14,2e-2],[15,1e-2],[16,5e-3],[17,3e-3],[18,1e-3],[18.5,5e-4],[19,4.8e-4],[19.5,4.8e-4],[17,1e-3],[18,2e-3],[19,1e-3],[16.5,2e-3],[17.5,8e-4],[18.5,1.5e-3],[19,5e-3],[19.5,1e-3],[17.5,5e-3],[18.5,8e-3],[16,1e-2],[17,1.5e-2],[18,2e-2],[19,2.5e-2],[20,3e-2],[20,1e-2],[20.5,1.5e-2],[21,1.2e-2],[21.5,1e-2],[22,1.1e-2],[22.5,1.2e-2],[23,1e-2],[23.5,1.1e-2],[24,1e-2],[24.5,1e-2],[25,1e-2],[25.5,9e-3],[26,9e-3],[26.5,8e-3],[22,2e-2],[24,1.5e-2],[25,3e-2],[27,4e-2],[28,4.5e-2],[28.5,3e-2],[29,3.5e-2],[29,2e-2],[29.5,2e-2],[29.8,1.2e-2],[30,1.2e-2],[30.3,9e-3],[27,3e-2],[15,3.5e-2],[18,3e-2]];

// ---------- (d) Silicene ----------
var dTotal = [[0.05,4e-2],[0.1,6e-2],[0.2,8e-2],[0.3,1.3e-1],[0.4,2e-1],[0.5,3e-1],[0.6,5e-1],[0.7,9e-1],[0.8,1.5],[0.85,4.3],[0.93,2.2],[1.0,1.6],[1.1,1.4],[1.2,1.3],[1.4,1.25],[1.6,1.2],[1.75,1.1],[1.9,1.0],[2.1,1.0],[2.25,1.0],[2.4,1.1],[2.6,1.3],[2.75,1.5],[2.9,1.8],[3.05,2.2],[3.2,2.6],[3.35,2.9],[3.5,3.2],[3.7,3.6],[3.9,4],[4.05,3.6],[4.2,3.2],[4.35,2.8],[4.5,2.4],[4.65,2],[4.8,1.6],[4.9,1.4],[5.0,1.2],[5.15,9e-1],[5.3,7e-1],[5.4,6e-1],[5.5,4.5e-1],[5.7,2.7e-1],[5.5,2.4],[5.65,2.4],[5.8,2.6],[5.95,2.9],[6.1,3.2],[6.25,3.6],[6.4,4],[6.55,4.8],[6.7,5.7],[6.85,7],[7.0,9],[7.1,12],[7.25,22],[7.35,25],[7.4,15],[7.65,5.8e-1],[7.8,5e-1],[8.0,4.6e-1],[8.15,4.3e-1],[8.3,4e-1],[8.45,4e-1],[8.6,4e-1],[8.75,4.5e-1],[8.9,5e-1],[9.0,1.2],[9.05,6],[9.1,16],[9.2,8],[9.3,5],[9.4,3.5],[9.5,2.5],[9.65,1.6],[9.8,8.5e-1],[9.95,8e-1],[10.1,8e-1],[10.25,7.5e-1],[10.4,7e-1],[10.55,7e-1],[10.7,7e-1],[10.85,7e-1],[11.0,7e-1],[11.15,7.5e-1],[11.3,8e-1],[11.45,9e-1],[11.6,1.1],[11.75,2],[11.9,1.6],[12.1,1.2],[12.25,1.0],[12.4,8e-1],[12.6,7e-1],[12.9,5.8e-1],[13.05,5.6e-1],[13.2,5.5e-1],[13.35,5.2e-1],[13.5,5e-1],[13.65,5e-1],[13.8,5e-1],[14.0,4.9e-1],[14.2,4.8e-1],[14.45,4.8e-1],[14.7,4.8e-1],[14.85,4.6e-1],[15.0,4.5e-1],[15.2,4.5e-1],[15.3,5.5e-1],[15.4,7.8e-1],[15.5,6e-1],[15.6,4.5e-1],[15.8,4.2e-1],[16.0,4e-1],[16.15,4e-1],[16.3,4e-1],[16.5,4e-1],[16.6,4.2e-1]];
var dAbs = [[0.1,5e-2],[0.3,1e-1],[0.5,3e-1],[0.7,8e-1],[0.3,5e-3],[0.5,1e-2],[0.7,2e-2],[1.0,3e-2],[1.3,4e-2],[1.6,5e-2],[1.9,7e-2],[2.2,9e-2],[1.5,1e-1],[2.0,2e-1],[2.5,3e-1],[2.5,1.5e-1],[3.0,2e-1],[3.0,1e-1],[3.5,1.5e-1],[3.5,3e-1],[4.0,2e-1],[4.0,4e-1],[4.5,2.5e-1],[4.5,1.5e-1],[5.0,1.5e-1],[5.0,1e-1],[5.5,8e-2],[5.7,5e-2],[5.5,1.2e-1],[2.6,1.5],[3.0,1.2],[2.2,2.5e-1],[2.7,2e-1],[3.2,1.5e-1],[3.7,2e-1],[4.2,3e-1],[4.7,2e-1],[5.2,1.2e-1],[5.6,6e-2],[3.2,4e-1],[4.2,1.2e-1],[4.8,8e-2],[5.3,7e-2],[5.7,1e-1],[5.85,8.5e-1],[6.0,7e-1],[6.2,6e-1],[6.4,5e-1],[6.6,4.5e-1],[6.8,4.2e-1],[7.2,4e-1],[7.4,3.7e-1],[7.6,3.5e-1],[7.8,3.3e-1],[8.0,3.2e-1],[8.2,3.1e-1],[8.4,3e-1],[8.6,2.8e-1],[8.8,2.7e-1],[9.0,2.6e-1],[9.2,2.5e-1],[9.4,2.4e-1],[9.6,2.3e-1],[9.8,2.2e-1],[10.0,2.2e-1],[10.2,2.2e-1],[10.4,2.2e-1],[10.6,2.3e-1],[10.8,2.4e-1],[11.0,2.6e-1],[11.2,3e-1],[11.5,5e-1],[11.6,8e-1],[11.75,1.5],[12.0,7e-1],[12.15,6.5e-1],[12.3,6e-1],[12.45,4e-1],[12.6,2.5e-1],[12.75,2e-1],[12.9,1.5e-1],[13.1,1.3e-1],[13.3,1.2e-1],[13.5,1.1e-1],[13.7,1e-1],[13.9,1e-1],[14.1,1e-1],[14.3,9.5e-2],[14.5,9e-2],[14.65,9e-2],[14.8,9e-2],[15.0,7e-2],[15.1,6e-2],[15.2,5e-2],[15.4,4e-2],[15.45,3.5e-2],[15.5,3e-2],[15.6,2e-2],[15.65,1.8e-2],[15.7,1.5e-2],[15.8,1e-2],[15.85,9e-3],[15.9,8e-3],[16.0,5e-3],[16.1,3e-3],[16.2,2e-3],[16.3,1e-3],[15.5,1e-2],[15.6,8e-3],[15.7,5e-3],[15.8,4e-3],[15.9,2.5e-3],[16.0,2e-3],[16.1,1.2e-3],[16.2,8e-4],[16.3,6e-4],[16.4,4e-4],[15.6,3e-2],[15.8,2e-2],[16.0,1e-2],[16.2,5e-3],[16.4,2e-3],[16.5,8e-4],[15.3,1e-4],[15.35,5e-5],[15.4,2e-5],[15.3,8e-6],[15.25,5e-6],[15.5,8e-5],[15.4,1e-5],[15.6,5e-6],[15.32,3e-5],[15.28,1.5e-5],[15.45,4e-5],[16.4,5e-6],[16.45,2e-6],[16.48,3e-6],[16.5,8e-7],[16.52,1.2e-6],[16.55,3e-7],[16.55,1e-7],[16.58,2e-7],[16.6,5e-7],[16.5,1.5e-6]];
var dEm = [[0.03,1e-5],[0.03,1.9e-7],[0.08,9e-5],[0.15,3.4e-4],[0.2,5e-4],[0.25,8e-4],[0.3,1e-3],[0.35,1.5e-3],[0.4,2e-3],[0.45,1.5e-3],[0.5,3e-3],[0.55,3e-3],[0.6,5e-3],[0.5,1e-3],[0.4,6e-4],[0.7,1e-2],[0.8,2e-2],[0.9,5e-2],[1.0,1e-1],[0.6,2e-2],[0.7,6e-2],[0.3,3e-3],[1.1,3e-1],[1.2,1e-1],[1.3,2e-1],[1.5,7e-2],[1.6,1.2e-1],[1.7,3e-1],[1.8,6e-2],[1.9,1e-1],[2.0,4e-2],[2.2,2e-2],[2.2,8e-2],[2.2,2.5e-1],[2.4,1e-2],[2.5,5e-3],[2.5,3e-2],[2.6,2e-3],[2.7,1e-3],[2.7,5e-4],[2.77,2e-4],[2.3,5e-3],[2.5,1e-2],[2.7,2e-1],[2.8,2e-2],[2.9,5e-2],[3.0,4e-2],[3.2,7e-2],[3.3,1.2e-1],[3.6,2e-1],[1.4,1.5e-1],[2.0,9e-2],[2.6,6e-2],[3.0,1e-1],[0.8,5e-1],[1.0,7e-1],[1.5,6e-1],[2.0,5e-1],[2.5,6e-1],[3.0,8e-1],[3.3,1.2],[3.5,1.5],[3.8,2.5],[4.0,2.5],[4.2,2],[4.4,1.7],[4.6,1.3],[4.8,1],[5.0,8e-1],[5.2,6e-1],[5.4,4e-1],[5.55,3e-1],[5.7,2e-1],[6.0,1.5],[6.3,2],[6.5,2.5],[6.8,3.5],[7.0,5],[7.15,8],[7.3,15],[7.5,5e-1],[7.7,2e-1],[7.85,1.7e-1],[8.0,1.5e-1],[8.15,1.3e-1],[8.3,1.3e-1],[8.45,1.3e-1],[8.6,1.5e-1],[8.8,1.8e-1],[9.0,2.5e-1],[9.2,8],[9.4,3],[9.6,1.5],[9.8,1],[10.0,7e-1],[10.25,5e-1],[10.5,4e-1],[10.75,3.7e-1],[11.0,3.5e-1],[11.25,3.5e-1],[11.5,3.5e-1],[11.75,3.3e-1],[12.0,3e-1],[12.25,3e-1],[12.5,3e-1],[12.75,2.8e-1],[13.0,2.5e-1],[13.25,2.2e-1],[13.5,1.8e-1],[13.75,1.7e-1],[14.0,1.8e-1],[14.25,2e-1],[14.5,3e-1],[14.75,2.8e-1],[15.0,2.5e-1],[15.25,2.5e-1],[15.5,2.5e-1],[15.75,2e-1],[16.0,1.5e-1],[16.25,1.8e-1],[16.5,2.5e-1],[12.5,5e-1],[13.5,3e-1],[15.5,1.5e-1]];
var dN = [[0.0,4e-2],[0.1,8e-2],[0.3,2e-1],[0.5,4e-1],[0.7,7e-1],[0.1,7e-4],[0.15,1.2e-3],[0.2,2e-3],[0.25,3.5e-3],[0.3,5e-3],[0.4,1e-2],[0.5,1.5e-2],[0.6,2e-2],[0.7,3e-2],[0.85,4e-2],[1.0,5e-2],[1.15,6.5e-2],[1.3,8e-2],[1.45,9e-2],[1.6,1e-1],[1.75,1.1e-1],[1.9,1.2e-1],[2.05,1.25e-1],[2.2,1.3e-1],[2.35,1.25e-1],[2.5,1.2e-1],[2.65,1.1e-1],[2.8,1e-1],[2.95,9e-2],[3.1,8e-2],[3.25,1e-1],[1.2,3e-1],[1.5,2.5e-1],[1.8,3e-1],[3.5,1.5e-1],[3.75,1.5e-1],[4.0,1.5e-1],[4.25,1.4e-1],[4.5,1.2e-1],[4.75,1.1e-1],[5.0,1e-1],[5.25,9e-2],[5.5,7e-2],[5.7,4e-2],[3.5,3e-1],[3.75,3.5e-1],[4.0,4e-1],[4.25,3.5e-1],[4.5,3e-1],[4.75,2.5e-1],[5.0,2e-1],[5.25,1.8e-1],[5.5,1.5e-1],[5.6,1e-1],[3.0,5e-2],[3.5,7e-2],[4.0,8e-2],[4.5,7e-2],[5.0,6e-2],[5.5,6e-1],[5.8,5e-1],[6.0,4e-1],[6.25,3.7e-1],[6.5,3.5e-1],[6.75,3.2e-1],[7.0,3e-1],[7.25,2.8e-1],[7.5,2.5e-1],[7.75,2.4e-1],[8.0,2.2e-1],[8.25,2e-1],[8.5,1.8e-1],[8.75,2e-1],[9.0,3e-1],[9.05,6e-1],[9.1,2.6],[9.2,1.5],[9.3,8e-1],[9.45,5e-1],[9.6,3e-1],[9.8,2e-1],[10.0,1.5e-1],[10.4,1.2e-1],[10.5,9e-2],[11.0,8e-2],[11.25,1.2e-1],[11.5,1e-1],[11.75,1.4e-1],[12.0,1.5e-1],[12.15,1.8e-1],[12.3,2e-1],[12.45,3e-1],[12.6,4.8e-1],[12.7,3e-1],[12.9,2e-1],[9.5,1.2e-1],[10.2,1e-1],[10.8,1.3e-1],[11.5,1.5e-1],[12.8,1.5e-1],[13.0,1e-1],[13.1,1.2e-1],[13.2,6e-2],[13.2,9e-2],[13.4,8e-2],[13.5,7e-2],[13.6,4e-2],[13.7,6e-2],[13.8,5.5e-2],[14.0,3e-2],[14.0,5e-2],[14.2,4e-2],[14.2,5e-2],[14.4,2.5e-2],[14.5,4e-2],[14.6,3e-2],[14.7,4e-2],[14.8,2e-2],[15.0,3e-2],[15.0,2.2e-2],[15.1,2e-2],[15.2,1.5e-2],[15.3,1e-2],[15.35,1.5e-2],[15.4,1e-2],[15.45,6e-3],[15.5,5e-3],[15.5,3e-3],[15.55,2e-3],[15.6,1e-3],[15.6,3e-3],[15.65,7e-4],[15.7,4e-4],[15.7,2.3e-3],[15.75,1.5e-3],[15.8,8e-4],[15.85,2.5e-3],[15.9,2e-3],[15.95,1.8e-3],[16.0,1.5e-3],[16.0,5e-4],[16.05,1.2e-3],[16.1,8e-4],[16.15,6e-4],[16.2,4e-4],[16.2,2e-4],[16.25,3e-4],[16.3,2e-4],[16.35,1.5e-4],[16.4,1e-4],[16.4,4e-5],[16.45,7e-5],[16.5,5e-5],[16.55,2e-5],[16.6,3e-5],[16.6,1e-5],[16.6,5e-6]];
var dU = [[0.0,5e-4],[0.05,2e-4],[0.1,3e-3],[0.15,8e-3],[0.2,1.5e-2],[0.25,2e-2],[0.3,3e-2],[0.35,5e-2],[0.4,8e-2],[0.45,1.2e-1],[0.5,2e-1],[0.55,3e-1],[0.6,4e-1],[0.65,5e-1],[0.7,7e-1],[0.75,8e-1],[0.8,1],[0.9,8e-1],[0.2,6e-3],[0.4,2e-2],[0.6,1e-1],[1.0,6e-1],[1.15,5.5e-1],[1.3,5e-1],[1.45,4.5e-1],[1.6,4e-1],[1.75,4.5e-1],[1.9,5e-1],[2.05,5.5e-1],[2.2,6e-1],[2.35,5.5e-1],[2.5,5e-1],[2.65,4.5e-1],[2.8,4e-1],[2.95,4.5e-1],[3.1,5e-1],[3.25,6e-1],[3.4,7e-1],[3.55,9e-1],[3.7,1.2],[3.85,1.4],[4.0,1.5],[4.15,1.4],[4.3,1.2],[4.45,1.0],[4.6,8e-1],[4.75,7e-1],[4.9,6e-1],[5.05,5e-1],[5.2,4e-1],[5.35,3e-1],[5.5,2.5e-1],[5.6,2e-1],[5.7,1.5e-1],[1.2,3e-1],[1.5,2.5e-1],[1.8,3e-1],[2.0,3e-1],[2.3,3e-1],[2.5,3e-1],[2.7,2e-1],[2.8,3e-1],[3.0,3e-1],[3.2,2e-1],[3.3,3.5e-1],[3.5,4e-1],[3.8,4.5e-1],[4.0,5e-1],[4.3,4.5e-1],[4.5,4e-1],[4.8,3.5e-1],[5.0,3e-1],[5.3,2.5e-1],[5.45,1.5],[5.6,5e-1],[5.8,1.8],[5.95,1.9],[6.1,2],[6.25,2.2],[6.4,2.4],[6.55,2.8],[6.7,3.2],[6.85,4],[7.0,5],[7.1,7],[7.2,10],[7.3,32],[7.35,20],[7.4,12],[7.5,1.5],[7.6,9e-1],[7.7,6e-1],[7.85,4.5e-1],[8.0,3.5e-1],[8.15,3.2e-1],[8.3,3e-1],[8.45,3e-1],[8.6,3e-1],[8.8,3.5e-1],[9.0,5e-1],[9.05,1.5],[9.1,4],[9.15,16],[9.2,8],[9.3,4.6],[9.4,3],[9.5,2],[9.65,1.6],[9.8,1.35],[9.95,1.15],[10.1,1],[10.25,9e-1],[10.4,8.5e-1],[10.55,7.5e-1],[10.7,7e-1],[10.85,6.7e-1],[11.0,6.5e-1],[11.15,6.2e-1],[11.3,6e-1],[11.45,6e-1],[11.6,6e-1],[11.8,6e-1],[12.0,5.8e-1],[12.15,5.5e-1],[12.3,5e-1],[12.45,4.5e-1],[12.6,4e-1],[12.75,3.9e-1],[12.9,3.8e-1],[13.05,3.6e-1],[13.2,3.5e-1],[13.35,3.4e-1],[13.5,3.3e-1],[13.65,3.3e-1],[13.8,3.2e-1],[13.95,3.1e-1],[14.1,3e-1],[14.25,2.9e-1],[14.4,2.8e-1],[14.55,2.8e-1],[14.7,2.8e-1],[14.85,2.7e-1],[15.0,2.6e-1],[15.1,1.5e-1],[15.2,4.8e-2],[15.3,1.5e-1],[15.4,2.5e-1],[15.5,4e-1],[15.6,3e-1],[15.7,2.5e-1],[15.85,2.4e-1],[16.0,2.4e-1],[16.15,2.3e-1],[16.3,2.3e-1],[16.45,2.5e-1],[16.6,2.8e-1]];

// ---------- inset ML BN ----------
var iTotal = [[1,15],[1.5,10],[2,8],[3,6],[4,5],[5,4],[6,3.5],[7,3],[8,2.8],[9,2.5],[10,2.3],[11,2.1],[12,2],[13,1.9],[14,1.8],[15,1.7],[16,1.6],[17,1.6],[18,2.5],[19,1.8],[20,1.5],[21,2],[22,5],[23,1.2],[24,1.2],[25,1.1],[26,1.1],[27,1.2],[28,1.3],[29,1.3],[30,1.2],[31,1.0],[32,7e-1],[33,5e-1],[34,4e-1],[35,4e-1],[36,4.5e-1],[37,5e-1],[38,7e-1],[39,1.1],[40,9e-1],[41,1.2],[42,3],[43,1.1],[44,1],[45,1],[2.5,6],[3.5,5],[4.5,4],[5.5,3.5],[6.5,3],[7.5,2.6],[8.5,2.4],[9.5,2.2],[10.5,2],[11.5,1.9],[12.5,1.8]];
var iAbs = [[0.5,5e-1],[1,4e-1],[2,3.5e-1],[4,3e-1],[6,3e-1],[8,3e-1],[10,3e-1],[12,2.8e-1],[14,2.8e-1],[16,2.5e-1],[18,2e-1],[20,1.5e-1],[22,1.5e-1],[24,1.5e-1],[26,1.5e-1],[28,1.5e-1],[30,1.5e-1],[32,1.3e-1],[34,1e-1],[35,5e-2],[36,2e-2],[37,1e-2],[38,5e-3],[39,2e-3],[40,1e-3],[41,4e-4],[41.5,2e-4],[42,1e-3],[43,5e-3],[44,2e-2],[45,8e-2],[38,2e-2],[39,5e-3],[40.5,8e-4],[38,2e-4],[39,1e-4],[40,5e-5],[40.5,2e-5],[41,1e-5],[41.5,5e-6],[37,2e-5],[42,1e-6],[2,1],[5,8e-1],[8,6e-1],[11,5e-1],[14,4e-1],[17,3e-1],[19,6e-1],[21,4e-1],[25,2e-1],[30,2e-1],[3,3e-1],[5,3e-1],[7,3e-1],[9,3e-1],[11,2.8e-1],[13,2.8e-1],[15,2.6e-1],[40.5,3e-4],[41,2e-4],[41,3e-5],[40,2e-5]];
var iEm = [[1,8],[2,5],[3,4],[4,3],[5,2.5],[6,2],[7,1.8],[8,1.6],[9,1.4],[10,1.3],[11,1.1],[12,1],[13,9e-1],[14,8e-1],[15,5e-1],[15.3,1e-1],[15.5,2.6e-2],[15.7,1e-1],[16,5e-1],[17,8e-1],[18,1],[18.5,3e-1],[18.8,5e-2],[19,1e-2],[19,2e-3],[18.8,5.5e-4],[19.5,3e-2],[20,6e-1],[21,1],[22,3],[23,8e-1],[24,5e-1],[25,3e-1],[26,4e-1],[28,1],[30,1.1],[32,6e-1],[33,2.5e-1],[34,3e-1],[36,3e-1],[38,5e-1],[39,8e-1],[40,8e-1],[41,1],[42,2.5],[43,1],[44,1],[45,1],[3,2],[5,1.5],[7,1.2],[9,1],[11,8e-1],[13,6e-1],[2,3e-4],[2.5,3e-4],[2.5,1.7e-5],[2.8,8e-5],[3,5e-4],[3.5,6e-4],[4,8e-4],[4.5,1.2e-3],[5,1.25e-3],[5.5,1.2e-3],[6,1e-3],[6.5,8e-4],[7,5e-4],[7.5,3e-4],[8,1.5e-4],[8.3,1.2e-4],[3.5,2e-4],[4.5,4e-4],[5.5,5e-4],[6.5,3e-4],[7.5,1.5e-4]];
var iN = [[0.3,4e-2],[0.5,1.5e-1],[1,1.2e-1],[2,2.6e-2],[2,1e-1],[3,1e-1],[4,9e-2],[5,8e-2],[6,9e-2],[7,1e-1],[8,8e-2],[9,9e-2],[10,1e-1],[12,1e-1],[14,1e-1],[16,1.1e-1],[18,1.1e-1],[20,1.2e-1],[22,1.1e-1],[24,1e-1],[26,9e-2],[28,9e-2],[30,8e-2],[32,7e-2],[34,5e-2],[35,3e-2],[36,8e-2],[37,1e-1],[37.5,5e-2],[37.8,1e-2],[38,3e-3],[38.2,1e-3],[38.5,5e-3],[39,2e-2],[39.5,1.5e-2],[40,8e-3],[40.5,5e-3],[41,8e-3],[41.5,1.5e-2],[42,1e-2],[43,5e-3],[44,4e-3],[45,3e-3],[45,1e-3],[44,8e-4],[20,2e-1],[22,2.5e-1],[24,1.5e-1],[8,5e-2],[12,6e-2],[16,5e-2],[25,5e-2],[30,6e-2],[11,8e-2],[13,8e-2],[15,8e-2],[17,9e-2],[19,9e-2],[21,1e-1],[23,9e-2],[27,7e-2],[29,7e-2],[31,6e-2],[33,5e-2]];
var iU = [[0.3,2],[0.5,6e-1],[1,4e-1],[2,3e-1],[3,2.8e-1],[4,2.8e-1],[5,2.7e-1],[6,2.7e-1],[7,2.8e-1],[8,2.8e-1],[9,3e-1],[10,3e-1],[11,3e-1],[12,3e-1],[13,3e-1],[14,3.5e-1],[15,3.5e-1],[16,4e-1],[17,5e-1],[18,8e-1],[19,6e-1],[20,5e-1],[21,1],[22,2],[23,6e-1],[24,4e-1],[25,6e-1],[26,8e-1],[27,9e-1],[28,1],[29,1],[30,1],[31,9e-1],[32,1],[33,9e-1],[34,8e-1],[35,7e-1],[36,7e-1],[37,8e-1],[38,8e-1],[39,9e-1],[40,1],[41,1.1],[42,3],[43,1],[44,1],[45,1],[2,5e-1],[5,4e-1],[8,4e-1],[11,4e-1],[14,5e-1],[24,8e-1],[28,8e-1],[35,5e-1],[1.5,3.5e-1],[2.5,3e-1],[3.5,2.8e-1],[4.5,2.7e-1],[6.5,2.8e-1],[9.5,3e-1],[12.5,3e-1],[29.5,1],[31.5,9e-1],[33.5,8.5e-1],[36.5,7e-1],[38.5,8.5e-1]];

// ---------- styles ----------
var FONT = 'Liberation Serif';
var seriesColors = ['#f51d1d', '#47e01e', '#2b4ce6', '#ff7b1c', '#80efd9'];
var legendColors = ['#ff0000', '#33ee00', '#2040ff', '#ff7000', '#7fffd4'];
var symbols = ['rect', 'circle', 'triangle', 'triangle', 'diamond'];
var legendLeft = [335, 786, 1099, 1381, 1671];

var grids = [], xAxes = [], yAxes = [], series = [];

// minor tick positions for the decorative log-exponent axes
var yMinor = [];
for (var n = -8; n < 2; n++) {
    for (var k = 2; k <= 9; k++) yMinor.push(n + Math.log10(k));
}

function addPanel(p) {
    var gi = grids.length;
    grids.push({
        left: p.left, top: p.top, width: p.width, height: p.height,
        show: !!p.bg, backgroundColor: p.bg || 'transparent', borderWidth: 0, z: p.z || 2
    });
    var lw = p.lw, ink = '#000';
    var lineSt = { color: ink, width: lw };
    var xi = xAxes.length;
    xAxes.push({
        type: 'value', gridIndex: gi, position: 'bottom', min: p.xMin, max: p.xMax,
        name: 'Frequency (THz)', nameLocation: 'middle', nameGap: p.xNameGap,
        nameTextStyle: { fontFamily: FONT, fontSize: p.nameSize, color: ink },
        axisLine: { show: true, onZero: false, lineStyle: lineSt },
        axisTick: { show: true, customValues: p.xLabels, length: p.major, lineStyle: lineSt },
        axisLabel: { show: true, customValues: p.xLabels, margin: p.xMargin, fontFamily: FONT, fontSize: p.tickSize, color: ink },
        splitLine: { show: false }
    });
    xAxes.push({
        type: 'value', gridIndex: gi, position: 'bottom', min: p.xMin, max: p.xMax,
        axisLine: { show: false, onZero: false },
        axisTick: { show: true, customValues: p.xMinor, length: p.minorLen, lineStyle: lineSt },
        axisLabel: { show: false }, splitLine: { show: false }
    });
    xAxes.push({
        type: 'value', gridIndex: gi, position: 'top', min: p.xMin, max: p.xMax,
        axisLine: { show: true, onZero: false, lineStyle: lineSt },
        axisTick: { show: true, inside: true, customValues: p.xLabels.concat(p.xMinor), length: p.major, lineStyle: lineSt },
        axisLabel: { show: false }, splitLine: { show: false }
    });
    var yi = yAxes.length;
    // data axis
    yAxes.push({ type: 'log', logBase: 10, gridIndex: gi, min: 1e-8, max: 1e2, show: false });
    // decorative axes in exponent units
    yAxes.push({
        type: 'value', gridIndex: gi, position: 'left', min: -8, max: 2, interval: 1,
        name: '{b|Scattering Rate (ps}{s|-1}{b|)}', nameLocation: 'middle', nameGap: p.yNameGap,
        nameTextStyle: { fontFamily: FONT, rich: {
            b: { fontFamily: FONT, fontSize: p.nameSize, color: ink, lineHeight: p.nameSize },
            s: { fontFamily: FONT, fontSize: Math.round(p.nameSize * 0.6), color: ink, verticalAlign: 'top', lineHeight: p.nameSize * 0.6 }
        } },
        axisLine: { show: true, onZero: false, lineStyle: lineSt },
        axisTick: { show: true, length: p.major, lineStyle: lineSt },
        axisLabel: {
            show: true, margin: p.yMargin, fontFamily: FONT,
            formatter: function (v) { return yDecades.indexOf(v) >= 0 ? '{b|10}{s|' + v + '}' : ''; },
            rich: {
                b: { fontFamily: FONT, fontSize: p.tickSize, color: ink, lineHeight: p.tickSize },
                s: { fontFamily: FONT, fontSize: Math.round(p.tickSize * 0.65), color: ink, verticalAlign: 'top', lineHeight: p.tickSize * 0.6 }
            }
        },
        splitLine: { show: false }
    });
    yAxes.push({
        type: 'value', gridIndex: gi, position: 'left', min: -8, max: 2,
        axisLine: { show: false, onZero: false },
        axisTick: { show: true, customValues: yMinor, length: p.minorLen, lineStyle: lineSt },
        axisLabel: { show: false }, splitLine: { show: false }
    });
    yAxes.push({
        type: 'value', gridIndex: gi, position: 'right', min: -8, max: 2, interval: 1,
        axisLine: { show: true, onZero: false, lineStyle: lineSt },
        axisTick: { show: true, inside: true, length: p.major, lineStyle: lineSt },
        axisLabel: { show: false }, splitLine: { show: false }
    });
    yAxes.push({
        type: 'value', gridIndex: gi, position: 'right', min: -8, max: 2,
        axisLine: { show: false, onZero: false },
        axisTick: { show: true, inside: true, customValues: yMinor, length: p.minorLen, lineStyle: lineSt },
        axisLabel: { show: false }, splitLine: { show: false }
    });
    p.sets.forEach(function (data, k) {
        series.push({
            name: seriesNames[k], type: 'scatter', data: data,
            xAxisIndex: xi, yAxisIndex: yi,
            symbol: symbols[k], symbolRotate: k === 3 ? 180 : 0,
            symbolSize: p.sizes[k], itemStyle: { color: seriesColors[k], opacity: 1 },
            silent: true, z: p.z || 2
        });
    });
}

var mainStyle = { lw: 3, major: 18, minorLen: 10, nameSize: 46, tickSize: 40, xMargin: 28, yMargin: 32, sizes: [7, 7, 8, 8, 8] };
function main(extra) { return Object.assign({}, mainStyle, extra); }

addPanel(main({ left: 195, top: 107, width: 793, height: 634, xMin: -1.5, xMax: 32, xLabels: aXLabels, xMinor: aXMinor, xNameGap: 70, yNameGap: 112, sets: [aTotal, aAbs, aEm, aN, aU] }));
addPanel(main({ left: 195, top: 889, width: 795, height: 635, xMin: -2.5, xMax: 27.5, xLabels: bXLabels, xMinor: bXMinor, xNameGap: 77, yNameGap: 116, sets: [bTotal, bAbs, bEm, bN, bU] }));
addPanel(main({ left: 1245, top: 104, width: 791, height: 635, xMin: -5, xMax: 53, xLabels: cXLabels, xMinor: cXMinor, xNameGap: 77, yNameGap: 116, sets: [cTotal, cAbs, cEm, cN, cU] }));
addPanel(main({ left: 1244, top: 888, width: 791, height: 635, xMin: -2, xMax: 18, xLabels: dXLabels, xMinor: dXMinor, xNameGap: 77, yNameGap: 118, sets: [dTotal, dAbs, dEm, dN, dU] }));
addPanel({ left: 411, top: 436, width: 309, height: 235, bg: '#f6f6f6', z: 5, lw: 1.5, major: 6, minorLen: 3, nameSize: 18, tickSize: 14, xMargin: 6, yMargin: 6,
    xMin: -5, xMax: 45, xLabels: iXLabels, xMinor: iXMinor, xNameGap: 22, yNameGap: 36, sizes: [4.5, 4.5, 4.5, 4.5, 4.5], sets: [iTotal, iAbs, iEm, iN, iU] });

var legends = seriesNames.map(function (name, k) {
    return {
        data: [{ name: name, icon: 'circle', itemStyle: { color: legendColors[k] }, textStyle: { color: legendColors[k], fontFamily: FONT, fontSize: 40 } }],
        left: legendLeft[k], top: -3, itemWidth: 28, itemHeight: 26, selectedMode: false,
        textStyle: { fontFamily: FONT, fontSize: 40, padding: [0, 0, 0, 16] }
    };
});

function label(text, x, y, size, weight, color) {
    return { type: 'text', left: x, top: y, z: 10,
        style: { text: text, fontFamily: FONT, fontSize: size, fontWeight: weight, fill: color || '#000' } };
}

var chart = echarts.init(document.getElementById('chart'));
chart.setOption({
    backgroundColor: '#fff',
    animation: false,
    textStyle: { fontFamily: FONT },
    grid: grids,
    xAxis: xAxes,
    yAxis: yAxes,
    legend: legends,
    series: series,
    graphic: [
        label('(a)', 2, 58, 56, 'normal'),
        label('(b)', 2, 858, 56, 'normal'),
        label('(c)', 1052, 58, 56, 'normal'),
        label('(d)', 1050, 858, 56, 'normal'),
        label('ML GaN', 207, 132, 40, 'bold'),
        label('Graphene', 1263, 144, 40, 'bold'),
        label('Bulk GaN', 217, 936, 40, 'bold'),
        label('Silicene', 1268, 918, 40, 'bold'),
        label('ML BN', 478, 592, 27, 'bold', '#8a9696')
    ]
});
</script>
</body>
</html>
